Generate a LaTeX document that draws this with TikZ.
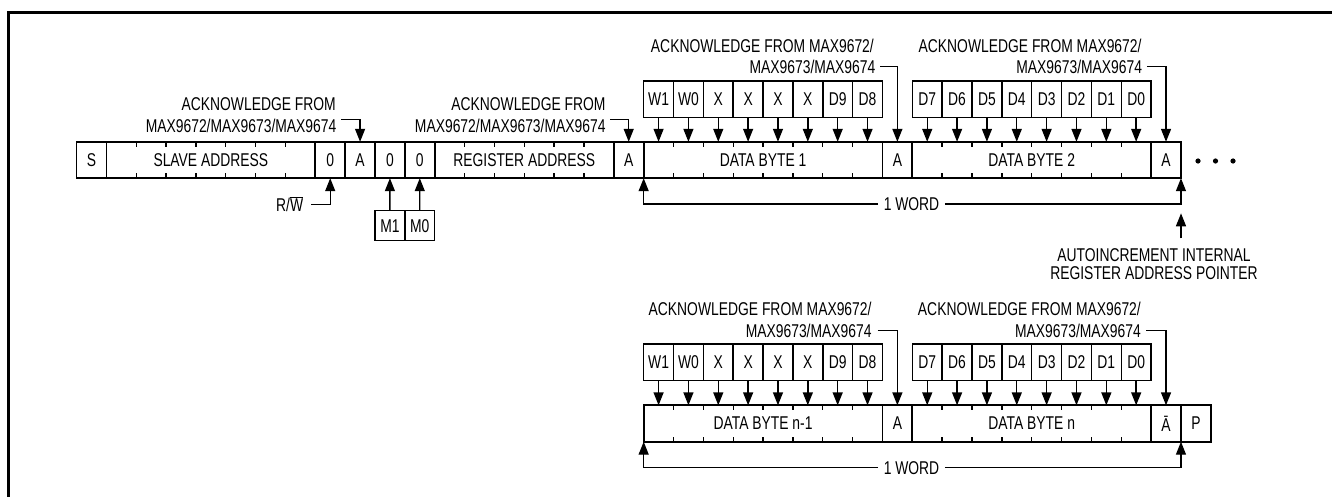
\documentclass[tikz,border=0pt]{standalone}
\usepackage{fontspec}
\newfontfamily\narrowsans[FakeStretch=0.75]{Liberation Sans}
\usetikzlibrary{arrows.meta,positioning}
\def\cw{29.85}
\tikzset{
  every picture/.style={line join=miter, >=Stealth},
  lbl/.style={font=\narrowsans\fontsize{18.5}{18.5}\selectfont, inner sep=0pt},
  field/.style={draw, lbl, line width=1.7pt, minimum width={#1*\cw pt}, minimum height=36.4pt, outer sep=0pt},
  field/.default=1,
  bitbox/.style={draw, lbl, line width=1.5pt, minimum width=\cw pt, minimum height=36.5pt, outer sep=0pt},
  tick/.style={line width=1.4pt},
  tip/.style={-{Triangle[width=10pt,length=13pt]}, line width=1.4pt},
}

\begin{document}
\begin{tikzpicture}[x=1pt,y=-1pt]
\useasboundingbox (0,0) rectangle (1332,497);
\draw[line width=2.6pt](8.5,497)--(8.5,12.3)--(1332,12.3);
\node[field, anchor=west] (st) at (76.5,160) {S};
\node[field=7, right=0pt of st] (slave) {SLAVE ADDRESS};
\node[field, right=0pt of slave] (rw) {0};
\node[field, right=0pt of rw] (ack1) {A};
\node[field, right=0pt of ack1] (mb1) {0};
\node[field, right=0pt of mb1] (mb0) {0};
\node[field=6, right=0pt of mb0] (reg) {REGISTER ADDRESS};
\node[field, right=0pt of reg] (ack2) {A};
\node[field=8, right=0pt of ack2] (byte1) {DATA BYTE 1};
\node[field, right=0pt of byte1] (ack3) {A};
\node[field=8, right=0pt of ack3] (byte2) {DATA BYTE 2};
\node[field, right=0pt of byte2] (ack4) {A};
\foreach \x in {1198,1215.5,1233} \fill (\x,161) circle(2.6pt);
\node[field=8, anchor=west] (byten1) at (643.65,423.5) {DATA BYTE n-1};
\node[field, right=0pt of byten1] (ack5) {A};
\node[field=8, right=0pt of ack5] (byten) {DATA BYTE n};
\node[field, right=0pt of byten] (nack) {Ā};
\node[field, right=0pt of nack] (stop) {P};
\foreach \f/\n in {slave/7,reg/6,byte1/8,byte2/8,byten1/8,byten/8}
  \foreach \i in {2,...,\n}{
    \draw[tick] (\f.north west) ++({(\i-1)*\cw},0) -- ++(0,5);
    \draw[tick] (\f.south west) ++({(\i-1)*\cw},0) -- ++(0,-5);
  }
\foreach \t [count=\i] in {W1,W0,X,X,X,X,D9,D8}{
  \node[bitbox] (ua\i) at ({643.65+(\i-0.5)*\cw},99.35) {\t};
  \draw[tip] (ua\i.south) -- (ua\i.south |- byte1.north);
  \node[bitbox] (la\i) at ({643.65+(\i-0.5)*\cw},362) {\t};
  \draw[tip] (la\i.south) -- (la\i.south |- byten1.north);
}
\foreach \t [count=\i] in {D7,D6,D5,D4,D3,D2,D1,D0}{
  \node[bitbox] (ub\i) at ({912.3+(\i-0.5)*\cw},99.35) {\t};
  \draw[tip] (ub\i.south) -- (ub\i.south |- byte2.north);
  \node[bitbox] (lb\i) at ({912.3+(\i-0.5)*\cw},362) {\t};
  \draw[tip] (lb\i.south) -- (lb\i.south |- byten.north);
}
\node[bitbox, minimum height=30pt] (m1) at (389.9,225.7) {M1};
\node[bitbox, minimum height=30pt, right=0pt of m1] (m0) {M0};
\draw[tip] (m1.north) -- (mb1.south);
\draw[tip] (m0.north) -- (mb0.south);
\node[lbl, anchor=east] (rwlbl) at (303.3,204.3) {R/$\overline{\mbox{W}}$};
\draw[tip] ([xshift=8pt]rwlbl.east) -| (rw.south);
\node[lbl, anchor=east] (acka1) at (336,104) {ACKNOWLEDGE FROM};
\node[lbl, anchor=east] (acka2) at (336.5,126.2) {MAX9672/MAX9673/MAX9674};
\draw[tip] ([xshift=4.5pt]acka2.north east) -| (ack1.north);
\node[lbl, anchor=east] (ackb1) at (605.7,104) {ACKNOWLEDGE FROM};
\node[lbl, anchor=east] (ackb2) at (605.7,126.2) {MAX9672/MAX9673/MAX9674};
\draw[tip] ([xshift=4.5pt]ackb2.north east) -| (ack2.north);
\node[lbl, anchor=east] (ackc1) at (874,45.5) {ACKNOWLEDGE FROM MAX9672/};
\node[lbl, anchor=east] (ackc2) at (875.5,66.7) {MAX9673/MAX9674};
\draw[tip] ([xshift=4.5pt]ackc2.east) -| (ack3.north);
\node[lbl, anchor=east] (ackd1) at (1141.7,45.5) {ACKNOWLEDGE FROM MAX9672/};
\node[lbl, anchor=east] (ackd2) at (1142.3,66.7) {MAX9673/MAX9674};
\draw[tip] ([xshift=4.5pt]ackd2.east) -| (ack4.north);
\node[lbl, anchor=east] (acke1) at (871.7,309.2) {ACKNOWLEDGE FROM MAX9672/};
\node[lbl, anchor=east] (acke2) at (871.7,330.7) {MAX9673/MAX9674};
\draw[tip] ([xshift=6pt]acke2.east) -| (ack5.north);
\node[lbl, anchor=east] (ackf1) at (1141,309.2) {ACKNOWLEDGE FROM MAX9672/};
\node[lbl, anchor=east] (ackf2) at (1141,330.7) {MAX9673/MAX9674};
\draw[tip] ([xshift=5pt]ackf2.east) -| (nack.north);
\node[lbl, inner xsep=5.5pt] (word1) at (911.5,204) {1 WORD};
\draw[tip] (word1.west) -| (byte1.south west);
\draw[tip] (word1.east) -| (ack4.south east);
\node[lbl, inner xsep=5.5pt] (word2) at (911.5,467.7) {1 WORD};
\draw[tip] (word2.west) -| (byten1.south west);
\draw[tip] (word2.east) -| (nack.south east);
\node[lbl, align=center, anchor=north] (ptr) at (1154,248.3) {AUTOINCREMENT INTERNAL\\REGISTER ADDRESS POINTER};
\coordinate (ptrtail) at (1181,238.3);
\draw[tip] (ptrtail) -- ++(0,-25);
\end{tikzpicture}
\end{document}
